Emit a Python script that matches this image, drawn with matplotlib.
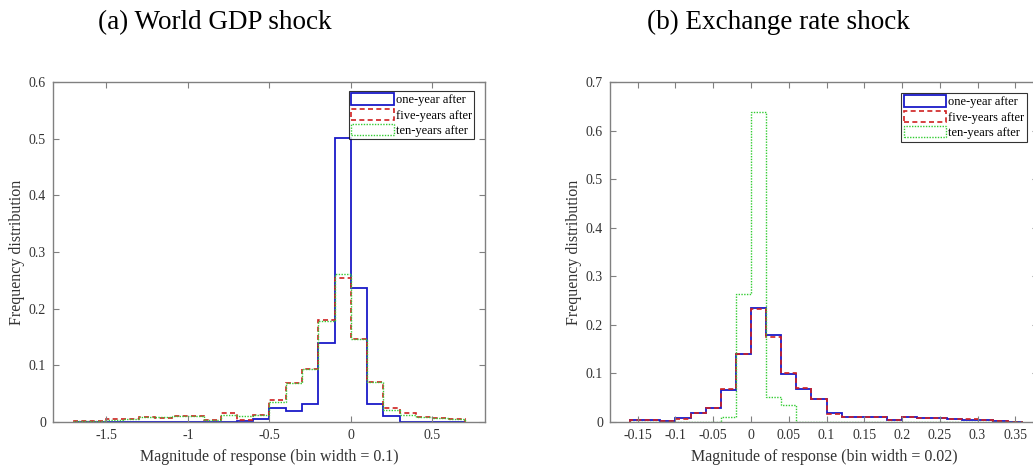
import numpy as np
import matplotlib.pyplot as plt
from matplotlib.patches import Patch
from matplotlib.ticker import FuncFormatter

plt.rcParams['font.family'] = ['Liberation Serif', 'DejaVu Serif']
plt.rcParams['axes.unicode_minus'] = False

# (a) World GDP shock, bins of 0.1 from -1.7 to 0.7
gdp_edges = np.round(np.arange(-1.7, 0.7001, 0.1), 2)
gdp_one = [0, 0, 0, 0, 0, 0, 0, 0, 0, 0,
           0.002, 0.006, 0.024, 0.019, 0.031, 0.139, 0.501, 0.236,
           0.031, 0.010, 0, 0, 0, 0]
gdp_five = [0.001, 0.001, 0.005, 0.005, 0.008, 0.007, 0.011, 0.010, 0.003, 0.016,
            0.003, 0.013, 0.038, 0.068, 0.094, 0.180, 0.255, 0.147,
            0.071, 0.024, 0.016, 0.009, 0.007, 0.005]
gdp_ten = [0.001, 0.001, 0.004, 0.005, 0.008, 0.008, 0.011, 0.010, 0.003, 0.012,
           0.011, 0.013, 0.036, 0.068, 0.093, 0.179, 0.262, 0.146,
           0.070, 0.022, 0.013, 0.009, 0.007, 0.005]

# (b) Exchange rate shock, bins of 0.02 from -0.16 to 0.36
fx_edges = np.round(np.arange(-0.16, 0.3601, 0.02), 3)
fx_one = [0.004, 0.004, 0.002, 0.008, 0.019, 0.029, 0.066, 0.141, 0.234, 0.180,
          0.099, 0.067, 0.048, 0.018, 0.011, 0.011, 0.010, 0.004, 0.010, 0.009,
          0.009, 0.007, 0.005, 0.005, 0.002, 0.001]
fx_five = [0.004, 0.004, 0.002, 0.007, 0.019, 0.028, 0.067, 0.141, 0.233, 0.175,
           0.101, 0.070, 0.048, 0.017, 0.011, 0.011, 0.010, 0.004, 0.010, 0.009,
           0.009, 0.007, 0.006, 0.005, 0.002, 0.001]
fx_ten = [0, 0, 0, 0, 0, 0, 0.010, 0.264, 0.639, 0.052,
          0.034, 0.001, 0, 0, 0, 0, 0, 0, 0, 0,
          0, 0, 0, 0, 0, 0]

labels = ['one-year after', 'five-years after', 'ten-years after']
colors = ['#1a1ac8', '#d02020', '#33cc33']
styles = ['-', (0, (3, 2)), (0, (1, 1))]
widths = [1.3, 1.2, 1.0]

fig = plt.figure(figsize=(10.33, 4.70), dpi=100)
ax1 = fig.add_axes([0.0513, 0.1021, 0.4182, 0.7234])
ax2 = fig.add_axes([0.5905, 0.1021, 0.4143, 0.7234])

fmt = FuncFormatter(lambda v, p: '%g' % round(v, 3))


def draw_panel(ax, edges, series, xlim, ylim, xticks, yticks, xlabel, leg_anchor):
    for vals, c, ls, lw in zip(series, colors, styles, widths):
        ax.stairs(vals, edges, color=c, linestyle=ls, linewidth=lw)
    ax.set_xlim(xlim)
    ax.set_ylim(ylim)
    ax.set_xticks(xticks)
    ax.set_yticks(yticks)
    ax.xaxis.set_major_formatter(fmt)
    ax.yaxis.set_major_formatter(fmt)
    ax.tick_params(direction='in', length=4, width=0.8, top=True, right=True,
                   color='#808080', labelcolor='#333333', labelsize=10, pad=5)
    for sp in ax.spines.values():
        sp.set_color('#808080')
        sp.set_linewidth(1.0)
    ax.set_xlabel(xlabel, fontsize=11.5, color='#333333', labelpad=5)
    ax.set_ylabel('Frequency distribution', fontsize=11.5, color='#333333', labelpad=3)
    handles = [Patch(facecolor='none', edgecolor=c, linestyle=ls, linewidth=lw)
               for c, ls, lw in zip(colors, styles, widths)]
    leg = ax.legend(handles, labels, loc='upper right', bbox_to_anchor=leg_anchor,
                    borderaxespad=0, fontsize=9, frameon=True, fancybox=False,
                    handlelength=3.4, handleheight=1.0, handletextpad=0.15,
                    labelspacing=0.2, borderpad=0.2)
    leg.get_frame().set_edgecolor('black')
    leg.get_frame().set_linewidth(0.8)


draw_panel(ax1, gdp_edges, [gdp_one, gdp_five, gdp_ten], (-1.828, 0.823), (0, 0.6),
           [-1.5, -1, -0.5, 0, 0.5], np.arange(0, 0.61, 0.1),
           'Magnitude of response (bin width = 0.1)', (0.975, 0.974))
draw_panel(ax2, fx_edges, [fx_one, fx_five, fx_ten], (-0.1867, 0.380), (0, 0.7),
           np.arange(-0.15, 0.351, 0.05), np.arange(0, 0.71, 0.1),
           'Magnitude of response (bin width = 0.02)', (0.974, 0.968))

fig.text(215 / 1033, 1 - 29 / 470, '(a) World GDP shock', ha='center', va='baseline',
         fontsize=19.5, color='black')
fig.text(778 / 1033, 1 - 29 / 470, '(b) Exchange rate shock', ha='center', va='baseline',
         fontsize=19.5, color='black')

fig.savefig('out.png', dpi=100)
